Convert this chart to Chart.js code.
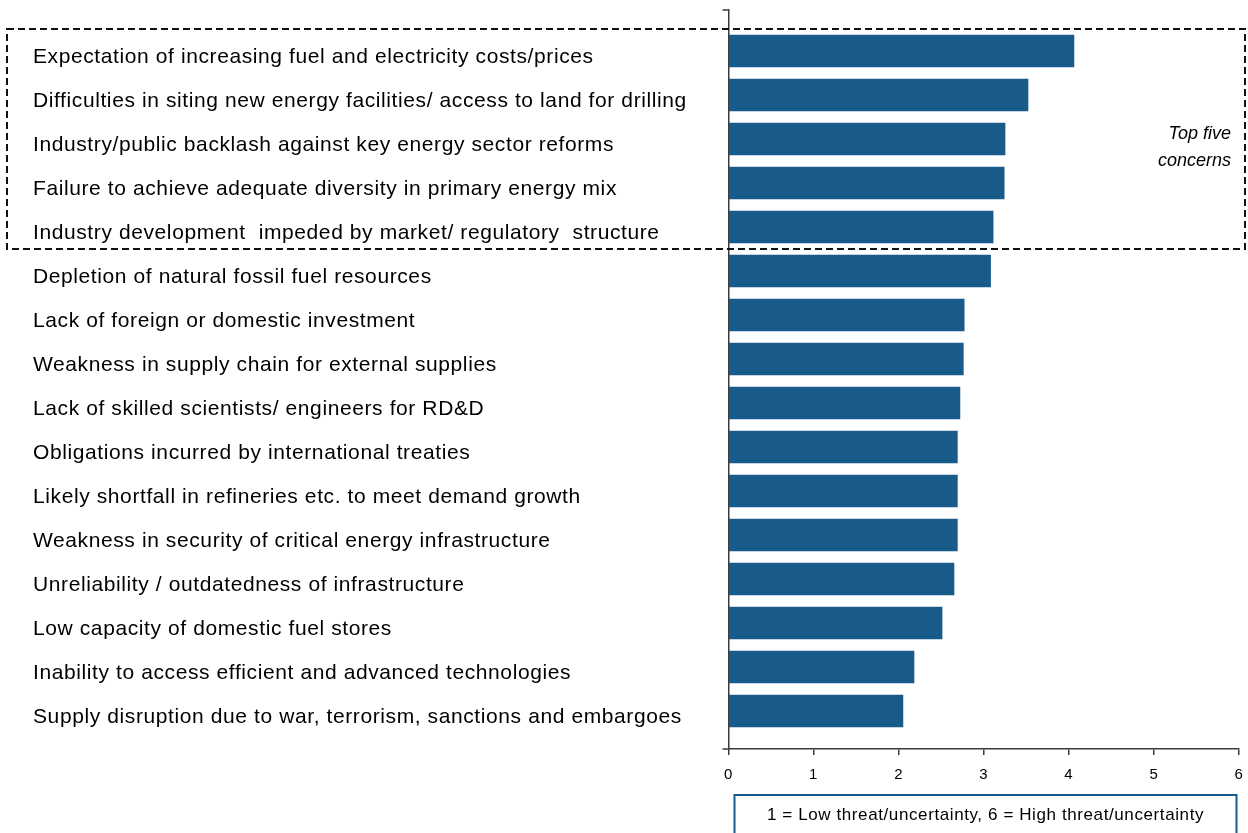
<!DOCTYPE html>
<html>
<head>
<meta charset="utf-8">
<script src="https://cdn.jsdelivr.net/npm/chart.js@4"></script>
<style>
  html, body { margin: 0; padding: 0; background: #fff; }
  #wrap { width: 1248px; height: 833px; position: relative; }
</style>
</head>
<body>
<div id="wrap"><canvas id="c" width="1248" height="833"></canvas></div>
<script>
const categories = [
  "Expectation of increasing fuel and electricity costs/prices",
  "Difficulties in siting new energy facilities/ access to land for drilling",
  "Industry/public backlash against key energy sector reforms",
  "Failure to achieve adequate diversity in primary energy mix",
  "Industry development  impeded by market/ regulatory  structure",
  "Depletion of natural fossil fuel resources",
  "Lack of foreign or domestic investment",
  "Weakness in supply chain for external supplies",
  "Lack of skilled scientists/ engineers for RD&D",
  "Obligations incurred by international treaties",
  "Likely shortfall in refineries etc. to meet demand growth",
  "Weakness in security of critical energy infrastructure",
  "Unreliability / outdatedness of infrastructure",
  "Low capacity of domestic fuel stores",
  "Inability to access efficient and advanced technologies",
  "Supply disruption due to war, terrorism, sanctions and embargoes"
];
const scores = [4.06, 3.52, 3.25, 3.24, 3.11, 3.08, 2.77, 2.76, 2.72, 2.69, 2.69, 2.69, 2.65, 2.51, 2.18, 2.05];
const xTicks = [0, 1, 2, 3, 4, 5, 6];
const topCount = 5;
const topNote = ["Top five", "concerns"];
const scaleNote = "1 = Low threat/uncertainty, 6 = High threat/uncertainty";

const FONT = "'Liberation Sans', Arial, sans-serif";
const BAR = "#185a8a";
const AXIS = "#3a3a3a";

const spacing = {
  id: 'spacing',
  beforeDraw(chart) { chart.ctx.letterSpacing = '0.6px'; },
  afterDraw(chart) { chart.ctx.letterSpacing = '0px'; }
};

const extras = {
  id: 'extras',
  afterDraw(chart) {
    const ctx = chart.ctx;
    const ca = chart.chartArea;
    const y = chart.scales.y;
    ctx.save();
    ctx.letterSpacing = '0px';
    // end ticks on category axis
    ctx.strokeStyle = AXIS;
    ctx.lineWidth = 1.5;
    ctx.beginPath();
    ctx.moveTo(ca.left - 6, ca.top); ctx.lineTo(ca.left, ca.top);
    ctx.moveTo(ca.left - 6, ca.bottom); ctx.lineTo(ca.left, ca.bottom);
    ctx.stroke();
    // dashed "top five" box
    const t = y.getPixelForValue(-0.5);
    const b = y.getPixelForValue(topCount - 0.5);
    ctx.strokeStyle = "#111";
    ctx.lineWidth = 2;
    ctx.setLineDash([7, 4]);
    ctx.strokeRect(7, t, chart.width - 10, b - t);
    ctx.setLineDash([]);
    // note text
    ctx.fillStyle = "#000";
    ctx.font = "italic 18px " + FONT;
    ctx.textAlign = "right";
    ctx.textBaseline = "alphabetic";
    const mid = (t + b) / 2;
    ctx.fillText(topNote[0], chart.width - 17, mid);
    ctx.fillText(topNote[1], chart.width - 17, mid + 27);
    // scale legend box
    ctx.strokeStyle = BAR;
    ctx.lineWidth = 2;
    ctx.strokeRect(ca.left + 6, 795, 502, 60);
    ctx.font = "17px " + FONT;
    ctx.letterSpacing = '0.6px';
    ctx.textAlign = "center";
    ctx.textBaseline = "middle";
    ctx.fillText(scaleNote, ca.left + 257, 815);
    ctx.restore();
  }
};

new Chart(document.getElementById('c'), {
  type: 'bar',
  data: {
    datasets: [{
      data: scores.map((v, i) => ({ x: v, y: i })),
      backgroundColor: BAR,
      borderWidth: 0,
      barThickness: 32
    }]
  },
  options: {
    indexAxis: 'y',
    responsive: false,
    animation: false,
    layout: { padding: { top: 10, left: 33, right: 9, bottom: 0 } },
    plugins: { legend: { display: false }, tooltip: { enabled: false } },
    scales: {
      x: {
        type: 'linear',
        min: xTicks[0],
        max: xTicks[xTicks.length - 1],
        afterBuildTicks: s => { s.ticks = xTicks.map(v => ({ value: v })); },
        afterFit: s => { s.height = 84; s.paddingLeft = 0; s.paddingRight = 0; },
        grid: { drawOnChartArea: false, tickLength: 6, color: AXIS, lineWidth: 1.5 },
        border: { display: true, color: AXIS, width: 1.5 },
        ticks: { color: "#000", font: { family: FONT, size: 15 }, padding: 11, maxRotation: 0 }
      },
      y: {
        type: 'linear',
        reverse: true,
        offset: false,
        min: -0.5 - 19 / 44,
        max: categories.length - 0.5 + 16 / 44,
        afterBuildTicks: s => { s.ticks = categories.map((_, i) => ({ value: i })); },
        afterFit: s => { s.width = 695.5; s.paddingTop = 0; s.paddingBottom = 0; },
        grid: { display: false },
        border: { display: true, color: AXIS, width: 1.5 },
        ticks: {
          autoSkip: false,
          crossAlign: 'far',
          labelOffset: 6,
          color: "#000",
          font: { family: FONT, size: 21 },
          callback: v => categories[v]
        }
      }
    }
  },
  plugins: [spacing, extras]
});
</script>
</body>
</html>
